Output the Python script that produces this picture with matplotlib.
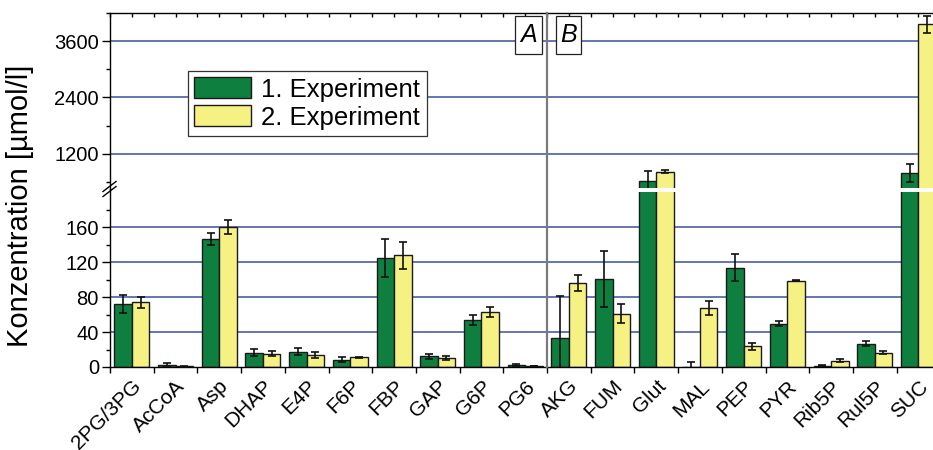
import matplotlib
matplotlib.use("Agg")
import matplotlib.pyplot as plt
import numpy as np
from matplotlib.lines import Line2D
from matplotlib.patches import Rectangle
import matplotlib.transforms as mtransforms

plt.rcParams['font.family'] = ['Liberation Sans', 'DejaVu Sans']

categories = ["2PG/3PG", "AcCoA", "Asp", "DHAP", "E4P", "F6P", "FBP", "GAP", "G6P", "PG6",
              "AKG", "FUM", "Glut", "MAL", "PEP", "PYR", "Rib5P", "Rul5P", "SUC"]
exp1 = [72, 2.7, 147, 16.5, 17.5, 8.5, 125, 12.3, 54, 2, 33.5, 101, 627, 0.3, 114, 49.5, 1.6, 26.8, 785]
err1 = [10, 1.5, 7, 4, 4, 3, 22, 2.8, 6, 1, 48, 32, 213, 5, 15, 2.7, 0.5, 3, 188]
exp2 = [74, 1.0, 160, 15.4, 14.2, 11, 128, 10.3, 63, 1.2, 96.5, 61, 819, 68, 24, 99, 7.3, 16.5, 3960]
err2 = [6.5, 0.5, 8, 3, 3.5, 1, 15.7, 2, 6, 0.5, 9, 11, 38, 8, 4, 0.8, 2, 2, 186]
labels = ["1. Experiment", "2. Experiment"]
low_ticks = [0, 40, 80, 120, 160]
up_ticks = [1200, 2400, 3600]

W, H = 933, 450
fig = plt.figure(figsize=(W / 100, H / 100), dpi=100)

x0, x1 = 110, 940.3
yb, ybrk, yt = 367, 189, 13
ax_lo = fig.add_axes([x0 / W, 1 - yb / H, (x1 - x0) / W, (yb - ybrk) / H])
ax_up = fig.add_axes([x0 / W, 1 - ybrk / H, (x1 - x0) / W, (ybrk - yt) / H])

green = '#0e7f3f'
yellow = '#f5f283'
grid_c = '#4a60a8'
x = np.arange(len(categories))
w = 0.4

for ax in (ax_lo, ax_up):
    ax.bar(x - w / 2, exp1, w, color=green, edgecolor='#1a1a1a', linewidth=1.0, zorder=2, label=labels[0])
    ax.bar(x + w / 2, exp2, w, color=yellow, edgecolor='#1a1a1a', linewidth=1.0, zorder=2, label=labels[1])
    ax.errorbar(x - w / 2, exp1, yerr=err1, fmt='none', ecolor='#111111', elinewidth=1.2,
                capsize=3, capthick=1.2, zorder=3)
    ax.errorbar(x + w / 2, exp2, yerr=err2, fmt='none', ecolor='#111111', elinewidth=1.2,
                capsize=3, capthick=1.2, zorder=3)
    ax.set_xlim(-0.5, len(categories) - 0.5)
    ax.spines['right'].set_visible(False)
    ax.set_facecolor('none')

ax_lo.set_ylim(0, 204)
ax_up.set_ylim(450, 4200)

for t in low_ticks[1:]:
    ax_lo.axhline(t, color=grid_c, lw=1.2, zorder=1)
for t in up_ticks:
    ax_up.axhline(t, color=grid_c, lw=1.2, zorder=1)

# y ticks
ax_lo.set_yticks(low_ticks)
ax_lo.set_yticks(np.arange(20, 204, 40), minor=True)
ax_up.set_yticks(up_ticks)
ax_up.set_yticks([600, 1800, 3000, 4200], minor=True)
for ax in (ax_lo, ax_up):
    ax.tick_params(axis='y', which='major', direction='out', length=6, width=1, labelsize=14.5, pad=2)
    ax.tick_params(axis='y', which='minor', direction='out', length=3, width=1)

# x ticks
bounds = np.arange(-0.5, len(categories), 1.0)
ax_lo.set_xticks(x)
ax_lo.set_xticklabels(categories, rotation=45, ha='right', va='top', rotation_mode='anchor',
                      fontsize=15)
ax_lo.set_xticks(bounds, minor=True)
ax_lo.tick_params(axis='x', which='major', length=0, pad=7)
ax_lo.tick_params(axis='x', which='minor', direction='out', length=4, width=1)
ax_lo.spines['top'].set_visible(False)

ax_up.spines['bottom'].set_visible(False)
ax_up.set_xticks(x)
ax_up.set_xticks(bounds, minor=True)
ax_up.tick_params(axis='x', which='both', bottom=False, top=True, labelbottom=False,
                  direction='in', length=3, width=1)

for ax in (ax_lo, ax_up):
    for s in ax.spines.values():
        s.set_linewidth(1.0)

# white gap across bars at the break
fig.add_artist(Rectangle(((x0 + 1.5) / W, 1 - 191.7 / H), 1, 4 / H, transform=fig.transFigure,
                         facecolor='white', edgecolor='none', zorder=5))

# separator line between groups
tr = mtransforms.blended_transform_factory(ax_lo.transData, fig.transFigure)
fig.add_artist(Line2D([9.5, 9.5], [1 - yb / H, 1 - yt / H], transform=tr, color='#7a7a7a',
                      lw=1.6, zorder=6))

# break marks on the y axis
for dy in (-2.5, 2.5):
    fig.add_artist(Line2D([(x0 - 7) / W, (x0 + 6) / W],
                          [1 - (ybrk + 5 + dy) / H, 1 - (ybrk - 5 + dy) / H],
                          transform=fig.transFigure, color='black', lw=1.0, zorder=7))

# A / B boxes
for (bx0, bx1), s in (((515, 542), 'A'), ((556, 581), 'B')):
    fig.add_artist(Rectangle((bx0 / W, 1 - 54 / H), (bx1 - bx0) / W, 38 / H,
                             transform=fig.transFigure, facecolor='white', edgecolor='#222222',
                             lw=0.9, zorder=8))
    t = fig.text((bx0 + bx1) / 2 / W, 1 - 35.5 / H, s, fontsize=18, style='italic',
                 ha='center', va='center')
    t.set_zorder(9)

# legend
leg = ax_up.legend(loc='upper left', bbox_to_anchor=(188 / W, 1 - 71 / H),
                   bbox_transform=fig.transFigure, fontsize=18.5, frameon=True, fancybox=False,
                   framealpha=1, edgecolor='#333333', handlelength=2.2, handleheight=0.85,
                   borderaxespad=0, borderpad=0.25, labelspacing=0.15, handletextpad=0.4)
leg.get_frame().set_linewidth(0.9)
leg.set_zorder(9)

fig.text(20 / W, 1 - 206 / H, 'Konzentration [µmol/l]', rotation=90, ha='center', va='center',
         fontsize=21)

fig.savefig('out.png', dpi=100)
